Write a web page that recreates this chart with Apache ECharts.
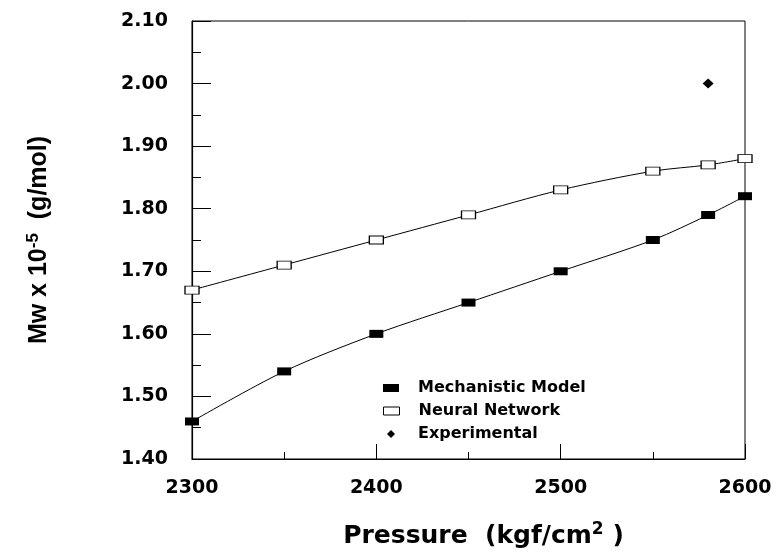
<!DOCTYPE html>
<html>
<head>
<meta charset="utf-8">
<script src="https://cdn.jsdelivr.net/npm/echarts@6/dist/echarts.min.js"></script>
<style>html,body{margin:0;padding:0;background:#fff}#c{width:782px;height:554px}</style>
</head>
<body>
<div id="c"></div>
<script>
var pressure = [2300, 2350, 2400, 2450, 2500, 2550, 2580, 2600];
var mechanistic = [1.46, 1.54, 1.60, 1.65, 1.70, 1.75, 1.79, 1.82];
var neural = [1.67, 1.71, 1.75, 1.79, 1.83, 1.86, 1.87, 1.88];
var expPressure = [2580];
var experimental = [2.00];
var seriesNames = ['Mechanistic Model', 'Neural Network', 'Experimental'];

function pairs(xs, ys) { return xs.map(function (x, i) { return [x, ys[i]]; }); }

var FONT = "'DejaVu Sans', 'Liberation Sans', sans-serif";
var NARROW = "'Liberation Sans Narrow', 'Liberation Sans', sans-serif";
var chart = echarts.init(document.getElementById('c'), null, { renderer: 'canvas' });
var legendBase = {
  orient: 'vertical', left: 378, itemGap: 0, itemHeight: 8, selectedMode: false,
  textStyle: { fontFamily: FONT, fontWeight: 'bold', fontSize: 16, color: '#000', lineHeight: 16, padding: [0, 0, 0, 14] }
};
chart.setOption({
  animation: false,
  backgroundColor: '#fff',
  grid: { left: 192, top: 21, right: 37, bottom: 90, show: true, borderColor: '#000', borderWidth: 1, containLabel: false },
  legend: [
    Object.assign({}, legendBase, { top: 375, itemWidth: 16, data: [{ name: seriesNames[0], icon: 'rect' }] }),
    Object.assign({}, legendBase, { top: 398, itemWidth: 16, data: [{ name: seriesNames[1], icon: 'rect', itemStyle: { color: '#fff', borderColor: '#000', borderWidth: 1 } }] }),
    Object.assign({}, legendBase, { top: 421, left: 382, itemWidth: 8, textStyle: Object.assign({}, legendBase.textStyle, { padding: [0, 0, 0, 18] }), data: [{ name: seriesNames[2], icon: 'diamond', itemStyle: { opacity: 1 } }] })
  ],
  xAxis: {
    type: 'value', min: 2300, max: 2600, interval: 100,
    name: 'Pressure  (kgf/cm{sup|2} )', nameLocation: 'middle', nameGap: 62,
    nameTextStyle: {
      fontFamily: FONT, fontWeight: 'bold', fontSize: 25, color: '#000', padding: [0, 0, 0, 30],
      rich: { sup: { fontFamily: FONT, fontWeight: 'bold', fontSize: 17, verticalAlign: 'top', padding: [0, 0, 14, 0], color: '#000' } }
    },
    axisLine: { show: true, lineStyle: { color: '#000', width: 1.2 } },
    axisTick: { show: true, inside: true, length: 15, lineStyle: { color: '#000' } },
    minorTick: { show: true, splitNumber: 2, length: 7, lineStyle: { color: '#000' } },
    splitLine: { show: false },
    axisLabel: { margin: 20, fontFamily: FONT, fontWeight: 'bold', fontSize: 19, color: '#000', formatter: function (v) { return String(v); } }
  },
  yAxis: {
    type: 'value', min: 1.4, max: 2.1, interval: 0.1,
    name: 'Mw x 10{sup|-5}  (g/mol)', nameLocation: 'middle', nameGap: 138, nameRotate: 90,
    nameTextStyle: {
      fontFamily: NARROW, fontWeight: 'bold', fontSize: 25, color: '#000',
      rich: { sup: { fontFamily: NARROW, fontWeight: 'bold', fontSize: 17, verticalAlign: 'top', padding: [0, 0, 12, 0], color: '#000' } }
    },
    axisLine: { show: true, lineStyle: { color: '#000', width: 1.2 } },
    axisTick: { show: true, inside: true, length: 19, lineStyle: { color: '#000' } },
    minorTick: { show: true, splitNumber: 2, length: 9, lineStyle: { color: '#000' } },
    splitLine: { show: false },
    axisLabel: { margin: 24, fontFamily: FONT, fontWeight: 'bold', fontSize: 19, color: '#000', formatter: function (v) { return v.toFixed(2); } }
  },
  series: [
    {
      name: seriesNames[0], type: 'line', smooth: 0.3, data: pairs(pressure, mechanistic),
      symbol: 'rect', symbolSize: [14, 8], showAllSymbol: true,
      lineStyle: { color: '#000', width: 1 }, itemStyle: { color: '#000' }
    },
    {
      name: seriesNames[1], type: 'line', smooth: 0.3, data: pairs(pressure, neural),
      symbol: 'rect', symbolSize: [14, 8], showAllSymbol: true,
      lineStyle: { color: '#000', width: 1 }, itemStyle: { color: '#fff', borderColor: '#000', borderWidth: 1 }
    },
    {
      name: seriesNames[2], type: 'scatter', data: pairs(expPressure, experimental),
      symbol: 'diamond', symbolSize: [11, 10], itemStyle: { color: '#000', opacity: 1 }
    }
  ]
});
</script>
</body>
</html>
